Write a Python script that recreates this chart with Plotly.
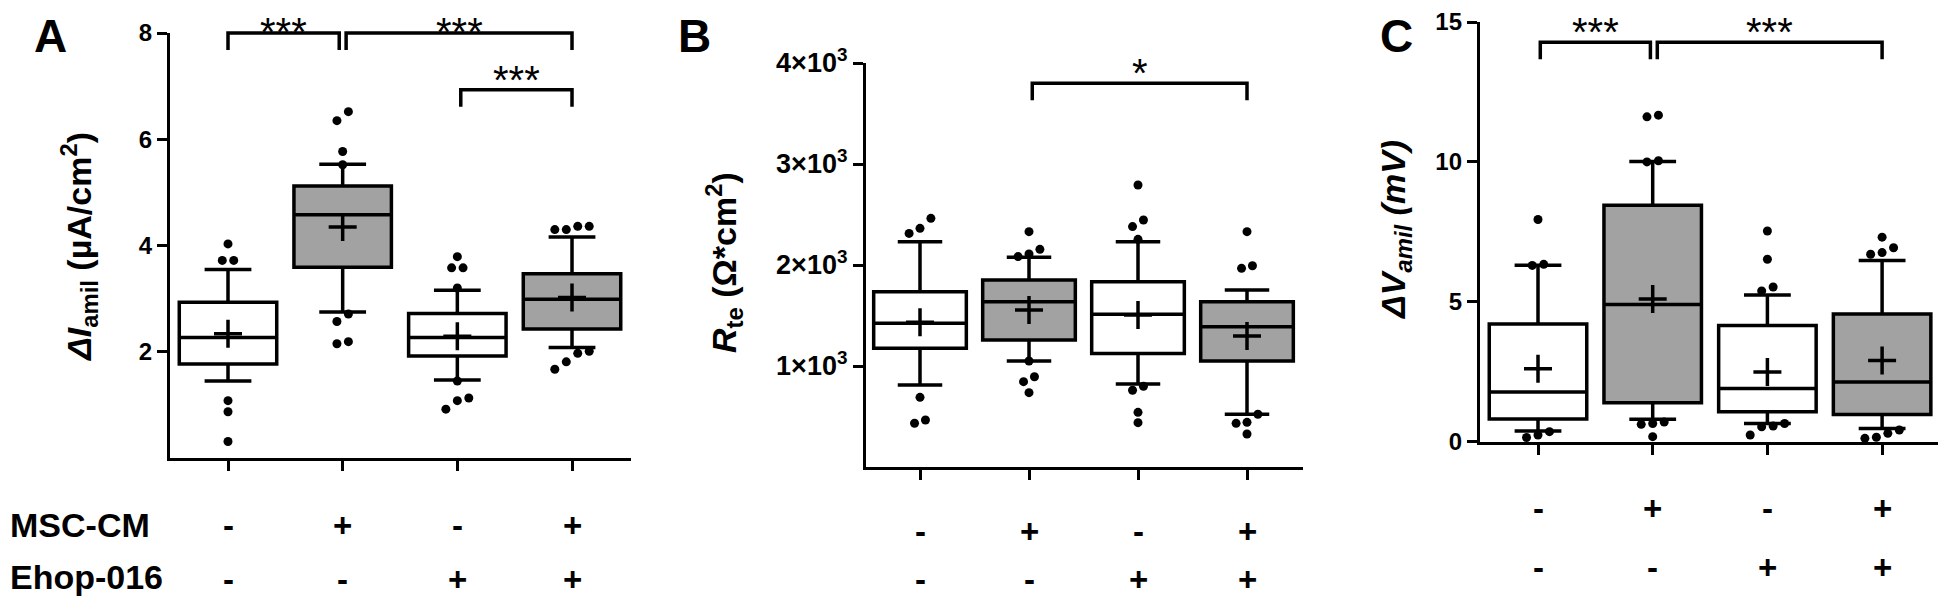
import plotly.graph_objects as go

# The page body adds an 8px margin, so the figure is sized to fit the window exactly
PAGE_W, PAGE_H, OFF = 1946, 606, 8
WF, HF = PAGE_W - 2 * OFF, PAGE_H - 2 * OFF
FONT = "Liberation Sans, Arial, sans-serif"

# ---------------- data ----------------
conditions = ["ctrl", "MSC-CM", "Ehop-016", "MSC-CM+Ehop-016"]
msc_cm_row = ["-", "+", "-", "+"]
ehop_row = ["-", "-", "+", "+"]
fill_kind = ["white", "gray", "white", "gray"]

# Panel A: delta I_amil (uA/cm2)
a_q1 = [1.77, 3.59, 1.92, 2.43]
a_median = [2.27, 4.58, 2.27, 2.99]
a_q3 = [2.93, 5.12, 2.72, 3.47]
a_low = [1.45, 2.75, 1.47, 2.08]
a_high = [3.55, 5.53, 3.16, 4.16]
a_mean = [2.34, 4.35, 2.29, 3.02]
a_out = [
    [4.03, 3.72, 3.72, 1.08, 0.87, 0.31],
    [6.52, 6.35, 5.77, 5.52, 2.71, 2.57, 2.19, 2.15],
    [3.79, 3.58, 3.58, 3.20, 1.45, 1.13, 1.08, 0.92],
    [4.36, 4.30, 4.30, 4.36, 2.01, 1.97, 1.81, 1.67],
]

# Panel B: R_te (Ohm*cm2)
b_q1 = [1175, 1257, 1125, 1050]
b_median = [1423, 1637, 1512, 1389]
b_q3 = [1736, 1851, 1835, 1637]
b_low = [812, 1050, 822, 522]
b_high = [2231, 2076, 2231, 1752]
b_mean = [1433, 1554, 1505, 1297]
b_out = [
    [2462, 2363, 2313, 690, 465, 433],
    [2330, 2155, 2109, 2083, 1050, 894, 845, 736],
    [2792, 2446, 2380, 2254, 800, 760, 541, 439],
    [2330, 1993, 1967, 522, 442, 432, 327],
]

# Panel C: delta V_amil (mV)
c_q1 = [0.81, 1.39, 1.07, 0.97]
c_median = [1.78, 4.90, 1.90, 2.13]
c_q3 = [4.21, 8.45, 4.15, 4.56]
c_low = [0.38, 0.80, 0.65, 0.47]
c_high = [6.31, 10.01, 5.24, 6.48]
c_mean = [2.61, 5.10, 2.49, 2.90]
c_out = [
    [7.94, 6.34, 6.30, 0.36, 0.24, 0.15],
    [11.67, 11.61, 10.04, 10.00, 0.70, 0.65, 0.62, 0.18],
    [7.53, 6.52, 5.53, 5.39, 0.65, 0.56, 0.53, 0.24],
    [7.31, 6.93, 6.76, 6.70, 0.42, 0.30, 0.16, 0.12],
]

# significance brackets: (x0, x1, top value, label)
a_sig = [(0.0, 0.97, 8.0, "***"), (1.03, 3.0, 8.0, "***"), (2.03, 3.0, 6.93, "***")]
b_sig = [(1.03, 3.0, 3800, "*")]
c_sig = [(0.02, 0.98, 14.28, "***"), (1.04, 3.0, 14.28, "***")]

b_ticks = [1000, 2000, 3000, 4000]
b_ticktext = ["1\u00d710<sup>3</sup>", "2\u00d710<sup>3</sup>", "3\u00d710<sup>3</sup>", "4\u00d710<sup>3</sup>"]

# ---------------- layout geometry (page pixels) ----------------
panels = [
    dict(key="", letter="A", xpx=(170, 631), c0=228, sp=114.67, ypx=(33, 458), yr=(0, 8),
         q1=a_q1, med=a_median, q3=a_q3, lo=a_low, hi=a_high, mean=a_mean, out=a_out, sig=a_sig,
         tickvals=[2, 4, 6, 8], ticktext=None, tfs=24,
         title="<b><i>\u0394I</i><sub>amil</sub> (\u00b5A/cm<sup>2</sup>)</b>", tx=79, ty=247,
         lx=50, rows=(525, 579)),
    dict(key="2", letter="B", xpx=(866, 1303), c0=920, sp=109.0, ypx=(63, 467), yr=(0, 4000),
         q1=b_q1, med=b_median, q3=b_q3, lo=b_low, hi=b_high, mean=b_mean, out=b_out, sig=b_sig,
         tickvals=b_ticks, ticktext=b_ticktext, tfs=27,
         title="<b><i>R</i><sub>te</sub> (\u03a9*cm<sup>2</sup>)</b>", tx=724, ty=263,
         lx=694, rows=(531, 579)),
    dict(key="3", letter="C", xpx=(1480, 1942), c0=1538, sp=114.7, ypx=(22, 441.7), yr=(0, 15),
         q1=c_q1, med=c_median, q3=c_q3, lo=c_low, hi=c_high, mean=c_mean, out=c_out, sig=c_sig,
         tickvals=[0, 5, 10, 15], ticktext=None, tfs=24,
         title="<b><i>\u0394V<sub>amil</sub> (mV)</i></b>", tx=1395, ty=230,
         lx=1396, rows=(508, 567)),
]

FILL = {"white": "#ffffff", "gray": "#a2a2a2"}
LW = 3.3
STAR_FS = 40


def px_x(px):
    return min(1.0, max(0.0, (px - OFF) / WF))


def px_y(py):
    return 1 - (py - OFF) / HF


def spread(vals, thr, step=0.1):
    order = sorted(range(len(vals)), key=lambda i: vals[i])
    clusters = []
    for i in order:
        if clusters and abs(vals[i] - vals[clusters[-1][-1]]) < thr:
            clusters[-1].append(i)
        else:
            clusters.append([i])
    offs = [0.0] * len(vals)
    for c in clusters:
        n = len(c)
        for k, i in enumerate(c):
            offs[i] = (k - (n - 1) / 2) * step
    return offs


fig = go.Figure()
layout = dict(width=WF, height=HF, margin=dict(l=0, r=0, t=0, b=0, pad=0, autoexpand=False),
              paper_bgcolor="white", plot_bgcolor="white", showlegend=False,
              boxmode="overlay", font=dict(family=FONT, color="black"))
shapes, annotations = [], []

for p in panels:
    k = p["key"]
    xa, ya = "x" + k, "y" + k
    x_left = p["xpx"][0]
    x_right = min(p["xpx"][1], OFF + WF)
    xdom = [px_x(x_left), px_x(x_right)]
    xr = [(x_left - p["c0"]) / p["sp"], (x_right - p["c0"]) / p["sp"]]
    ydom = [px_y(p["ypx"][1]), px_y(p["ypx"][0])]
    y0, y1 = p["yr"]
    unit_px = (p["ypx"][1] - p["ypx"][0]) / (y1 - y0)

    def v2px(v, yb=p["ypx"][1], y0=y0, u=unit_px):
        return yb - (v - y0) * u

    for i in range(4):
        fig.add_trace(go.Box(
            x=[i], q1=[p["q1"][i]], median=[p["med"][i]], q3=[p["q3"][i]],
            lowerfence=[p["lo"][i]], upperfence=[p["hi"][i]],
            width=0.85, whiskerwidth=0.48, boxpoints=False,
            fillcolor=FILL[fill_kind[i]], line=dict(color="black", width=3.5),
            xaxis=xa, yaxis=ya, hoverinfo="skip"))
    for i in range(4):
        vals = p["out"][i]
        offs = spread(vals, 10.0 / unit_px)
        fig.add_trace(go.Scatter(
            x=[i + o for o in offs], y=vals, mode="markers", cliponaxis=False,
            marker=dict(color="black", size=9), xaxis=xa, yaxis=ya, hoverinfo="skip"))
    fig.add_trace(go.Scatter(
        x=list(range(4)), y=p["mean"], mode="markers", cliponaxis=False,
        marker=dict(symbol="cross-thin", size=20, line=dict(color="black", width=3.5)),
        xaxis=xa, yaxis=ya, hoverinfo="skip"))

    axis_common = dict(showline=True, linecolor="black", linewidth=LW, ticks="outside",
                       ticklen=10, tickwidth=3, tickcolor="black", showgrid=False,
                       zeroline=False, fixedrange=True, automargin=False)
    layout["xaxis" + k] = dict(axis_common, domain=xdom, range=xr, anchor=ya,
                               tickvals=[0, 1, 2, 3], showticklabels=False)
    yax = dict(axis_common, domain=ydom, range=[y0, y1], anchor=xa, tickvals=p["tickvals"],
               ticklabeloverflow="allow",
               tickfont=dict(family=FONT, size=p["tfs"], color="black", weight="bold"))
    if p["ticktext"]:
        yax["ticktext"] = p["ticktext"]
    layout["yaxis" + k] = yax

    for (bx0, bx1, top, lab) in p["sig"]:
        top_px = v2px(top)
        yt, yl = px_y(top_px), px_y(top_px + 17)
        shapes.append(dict(type="path", xref=xa, yref="paper",
                           path=f"M {bx0},{yl} L {bx0},{yt} L {bx1},{yt} L {bx1},{yl}",
                           line=dict(color="black", width=3.5)))
        box_top = max(OFF, top_px - 21 - 0.33 * STAR_FS)
        annotations.append(dict(x=(bx0 + bx1) / 2, y=px_y(box_top), xref=xa, yref="paper",
                                text=lab, showarrow=False, yanchor="top",
                                font=dict(family=FONT, size=STAR_FS, color="black")))
    annotations.append(dict(x=px_x(p["tx"]), y=px_y(p["ty"]), xref="paper", yref="paper",
                            text=p["title"], textangle=-90, showarrow=False,
                            xanchor="center", yanchor="middle",
                            font=dict(family=FONT, size=34, color="black")))
    annotations.append(dict(x=px_x(p["lx"]), y=1.0, xref="paper", yref="paper",
                            text="<b>" + p["letter"] + "</b>", showarrow=False,
                            xanchor="center", yanchor="top",
                            font=dict(family=FONT, size=46, color="black")))
    for row, ypx in zip([msc_cm_row, ehop_row], p["rows"]):
        for i, s in enumerate(row):
            annotations.append(dict(x=i, y=px_y(ypx), xref=xa, yref="paper",
                                    text="<b>" + s + "</b>", showarrow=False,
                                    xanchor="center", yanchor="middle",
                                    font=dict(family=FONT, size=33, color="black")))

for lab, ypx in [("MSC-CM", 525), ("Ehop-016", 577)]:
    annotations.append(dict(x=0.0, y=px_y(ypx), xref="paper", yref="paper",
                            text="<b>" + lab + "</b>", showarrow=False,
                            xanchor="left", yanchor="middle",
                            font=dict(family=FONT, size=34, color="black")))

layout["shapes"] = shapes
layout["annotations"] = annotations
fig.update_layout(**layout)
fig.write_html("out.html")
